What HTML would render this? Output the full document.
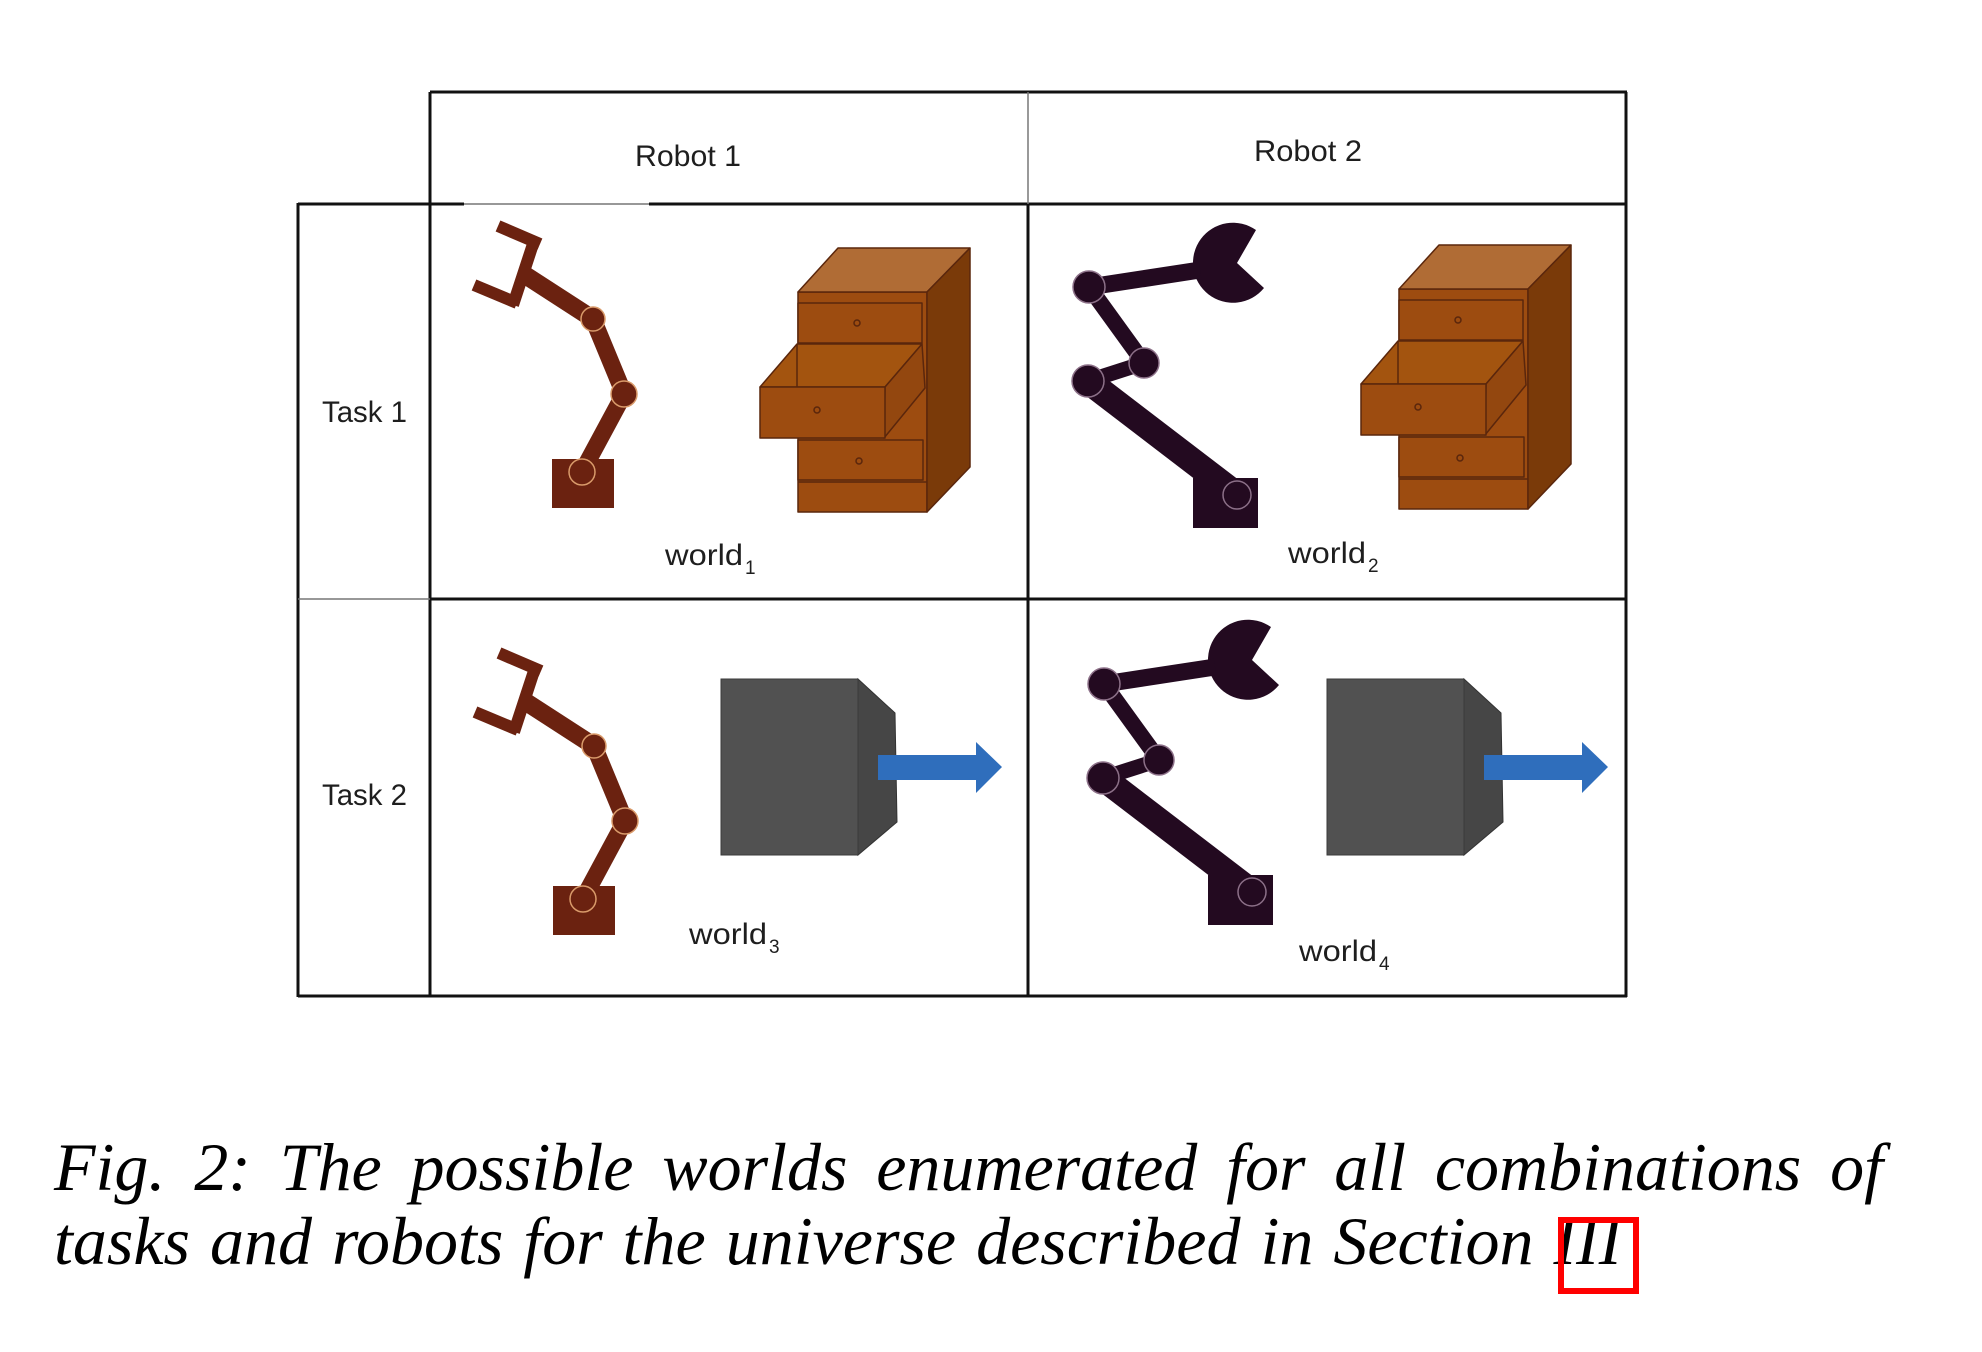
<!DOCTYPE html>
<html>
<head>
<meta charset="utf-8">
<style>
html,body{margin:0;padding:0;background:#fff;}
body{width:1982px;height:1352px;position:relative;overflow:hidden;}
svg{position:absolute;left:0;top:0;}
.cap{position:absolute;left:54px;top:1130px;width:1829px;font-family:"Liberation Serif",serif;font-style:italic;font-size:68px;line-height:74px;text-align:justify;color:#000;word-spacing:3px;}
.box{position:absolute;left:1558px;top:1217px;width:69px;height:65px;border:6px solid #ff0000;}
</style>
</head>
<body>
<svg width="1982" height="1352" viewBox="0 0 1982 1352" xmlns="http://www.w3.org/2000/svg">
  <defs>
    <g id="robot1">
      <g stroke="#6b2210" stroke-linecap="butt" fill="none">
        <line x1="498" y1="226" x2="540" y2="244" stroke-width="12"/>
        <line x1="534" y1="241" x2="513" y2="305" stroke-width="12"/>
        <line x1="474" y1="285" x2="517" y2="303" stroke-width="12"/>
        <line x1="525" y1="275" x2="593" y2="319" stroke-width="18"/>
        <line x1="593" y1="319" x2="624" y2="394" stroke-width="17"/>
        <line x1="624" y1="394" x2="582" y2="472" stroke-width="17"/>
      </g>
      <rect x="552" y="459" width="62" height="49" fill="#6b2210"/>
      <g fill="#6b2210" stroke="#d99a6a" stroke-width="1.5">
        <circle cx="593" cy="319" r="12"/>
        <circle cx="624" cy="394" r="13"/>
        <circle cx="582" cy="472" r="13"/>
      </g>
    </g>
    <g id="robot2">
      <path d="M1237 263 L1256 230 A40 40 0 1 0 1264 288 Z" fill="#230a20"/>
      <g stroke="#230a20" fill="none">
        <line x1="1089" y1="287" x2="1200" y2="270" stroke-width="17"/>
        <line x1="1089" y1="287" x2="1144" y2="363" stroke-width="16"/>
        <line x1="1144" y1="363" x2="1088" y2="381" stroke-width="15"/>
        <line x1="1088" y1="381" x2="1237" y2="495" stroke-width="26"/>
      </g>
      <rect x="1193" y="478" width="65" height="50" fill="#230a20"/>
      <g fill="#230a20" stroke="#8c7088" stroke-width="1.5">
        <circle cx="1089" cy="287" r="16"/>
        <circle cx="1144" cy="363" r="15"/>
        <circle cx="1088" cy="381" r="16"/>
        <circle cx="1237" cy="495" r="14"/>
      </g>
    </g>
    <g id="dresser" stroke="#5a260c" stroke-width="1.5" stroke-linejoin="round">
      <rect x="798" y="292" width="129" height="220" fill="#9d4c10"/>
      <polygon points="798,292 838,248 970,248 927,292" fill="#b06c35"/>
      <polygon points="927,292 970,248 970,467 927,512" fill="#7a3a09"/>
      <rect x="798" y="303" width="124" height="40" fill="#9d4c10"/>
      <circle cx="857" cy="323" r="3" fill="none"/>
      <polygon points="760,387 797,344 922,344 885,387" fill="#a3540f"/>
      <line x1="797" y1="344" x2="797" y2="387"/>
      <polygon points="885,387 922,344 925,388 884,438" fill="#93470f"/>
      <rect x="760" y="387" width="125" height="51" fill="#9d4c10"/>
      <circle cx="817" cy="410" r="3" fill="none"/>
      <rect x="798" y="440" width="125" height="40" fill="#9d4c10"/>
      <circle cx="859" cy="461" r="3" fill="none"/>
      <line x1="798" y1="482" x2="927" y2="482"/>
    </g>
    <g id="block">
      <polygon points="858,679 895,713 897,822 858,855" fill="#464646" stroke="#333" stroke-width="1"/>
      <rect x="721" y="679" width="137" height="176" fill="#515151" stroke="#3a3a3a" stroke-width="1"/>
      <polygon points="878,755 976,755 976,742 1002,767 976,793 976,780 878,780" fill="#2f6ebc"/>
    </g>
  </defs>

  <!-- table lines -->
  <g stroke="#111" stroke-width="3" fill="none">
    <line x1="430" y1="92" x2="1627" y2="92"/>
    <line x1="430" y1="92" x2="430" y2="997"/>
    <line x1="1626" y1="92" x2="1626" y2="997"/>
    <line x1="1028" y1="204" x2="1028" y2="997"/>
    <line x1="298" y1="204" x2="464" y2="204"/>
    <line x1="649" y1="204" x2="1627" y2="204"/>
    <line x1="430" y1="599" x2="1627" y2="599"/>
    <line x1="298" y1="996" x2="1627" y2="996"/>
    <line x1="298" y1="203" x2="298" y2="997"/>
  </g>
  <g stroke="#777" stroke-width="1.5">
    <line x1="1028" y1="92" x2="1028" y2="204"/>
    <line x1="298" y1="599" x2="430" y2="599"/>
    <line x1="464" y1="204" x2="649" y2="204"/>
  </g>

  <!-- labels -->
  <g font-family="Liberation Sans, sans-serif" font-size="30" fill="#1e1e1e">
    <text x="635" y="166" textLength="106" lengthAdjust="spacingAndGlyphs">Robot 1</text>
    <text x="1254" y="161" textLength="108" lengthAdjust="spacingAndGlyphs">Robot 2</text>
    <text x="322" y="422" textLength="85" lengthAdjust="spacingAndGlyphs">Task 1</text>
    <text x="322" y="805" textLength="85" lengthAdjust="spacingAndGlyphs">Task 2</text>
    <text x="665" y="565" textLength="78" lengthAdjust="spacingAndGlyphs">world</text>
    <text x="745" y="574" font-size="19">1</text>
    <text x="1288" y="563" textLength="78" lengthAdjust="spacingAndGlyphs">world</text>
    <text x="1368" y="572" font-size="19">2</text>
    <text x="689" y="944" textLength="78" lengthAdjust="spacingAndGlyphs">world</text>
    <text x="769" y="953" font-size="19">3</text>
    <text x="1299" y="961" textLength="78" lengthAdjust="spacingAndGlyphs">world</text>
    <text x="1379" y="970" font-size="19">4</text>
  </g>

  <!-- world 1 -->
  <use href="#robot1"/>
  <use href="#dresser"/>
  <!-- world 2 -->
  <use href="#robot2"/>
  <use href="#dresser" transform="translate(601,-3)"/>
  <!-- world 3 -->
  <use href="#robot1" transform="translate(1,427)"/>
  <use href="#block"/>
  <!-- world 4 -->
  <use href="#robot2" transform="translate(15,397)"/>
  <use href="#block" transform="translate(606,0)"/>
</svg>

<div class="cap">Fig. 2: The possible worlds enumerated for all combinations of tasks and robots for the universe described in Section III</div>
<div class="box"></div>
</body>
</html>
